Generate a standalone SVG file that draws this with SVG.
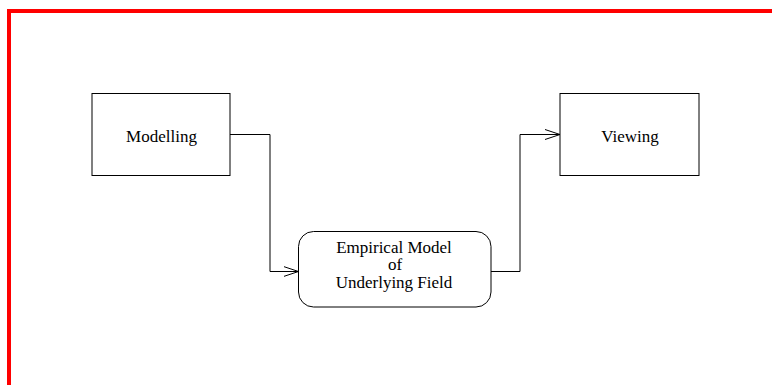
<svg xmlns="http://www.w3.org/2000/svg" width="772" height="385" viewBox="0 0 772 385">
<defs>
<style>
.frame{fill:none;stroke:#ff0000;stroke-width:4}
.box{fill:#ffffff;stroke:#000000;stroke-width:1}
.wire{fill:none;stroke:#000000;stroke-width:1}
.lbl{font-family:"Liberation Serif","Times New Roman",serif;font-size:17px;fill:#000000;text-anchor:middle}
</style>
<marker id="arr" markerWidth="16" markerHeight="12" refX="15" refY="6" orient="auto" markerUnits="userSpaceOnUse">
<path d="M0,1 L15,6 L0,11" fill="none" stroke="#000000" stroke-width="1"/>
</marker>
</defs>
<rect width="772" height="385" fill="#ffffff"/>
<rect class="frame" x="9" y="11" width="780" height="400"/>
<g id="connectors">
<path class="wire" d="M230,134.5 H270 V271.5 H298.5" marker-end="url(#arr)"/>
<path class="wire" d="M491,271.5 H520 V134.5 H560" marker-end="url(#arr)"/>
</g>
<g id="modelling">
<rect class="box" x="92" y="93.5" width="138" height="82"/>
<text class="lbl" x="161.5" y="141.5">Modelling</text>
</g>
<g id="empirical">
<rect class="box" x="298.5" y="231.5" width="192.5" height="75.5" rx="15" ry="15"/>
<text class="lbl" x="394" y="252.5">Empirical Model</text>
<text class="lbl" x="395" y="270">of</text>
<text class="lbl" x="394" y="288">Underlying Field</text>
</g>
<g id="viewing">
<rect class="box" x="560" y="93.5" width="139" height="82"/>
<text class="lbl" x="630" y="141.5">Viewing</text>
</g>
</svg>
